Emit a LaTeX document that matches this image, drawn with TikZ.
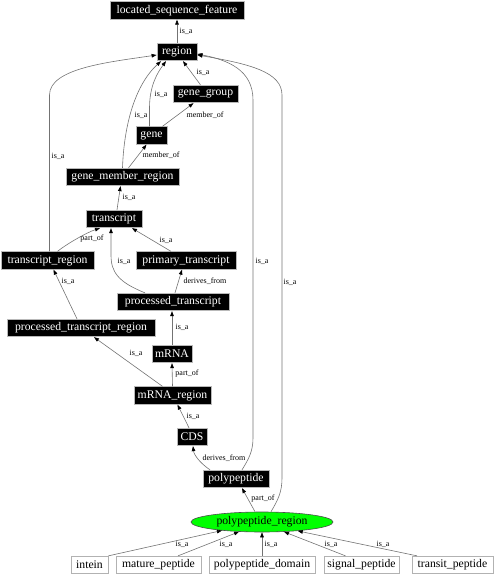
\documentclass[tikz,border=0pt]{standalone}
\usepackage{fontspec}
\setmainfont{Liberation Serif}
\usetikzlibrary{arrows.meta,shapes.geometric}
\begin{document}
\begin{tikzpicture}[x=1pt,y=-1pt,
  bnode/.style={rectangle, fill=black, draw=gray!55, line width=0.8pt, text=white,
    font=\fontsize{11.7}{13}\selectfont, inner xsep=2pt, inner ysep=0pt, minimum height=17.5pt},
  wnode/.style={bnode, fill=white, text=black, draw=gray!60},
  edge/.style={draw=black!55, line width=0.6pt, -{Triangle[length=5pt,width=3.6pt,color=black]}},
  lbl/.style={font=\fontsize{8}{9}\selectfont, inner sep=0pt}]
\useasboundingbox (0,0) rectangle (495,576);

% nodes
\node[bnode, minimum width=134pt] (lsf) at (177,10.5) {located\_sequence\_feature};
\node[bnode, minimum width=40pt] (region) at (177,52) {region};
\node[bnode, minimum width=65pt] (gg) at (205.5,94) {gene\_group};
\node[bnode, minimum width=31pt] (gene) at (151.5,135.5) {gene};
\node[bnode, minimum width=113pt] (gmr) at (122.5,177) {gene\_member\_region};
\node[bnode, minimum width=56pt] (transcript) at (114,219) {transcript};
\node[bnode, minimum width=93pt] (tr) at (47.5,260.5) {transcript\_region};
\node[bnode, minimum width=100pt] (prim) at (186,260.5) {primary\_transcript};
\node[bnode, minimum width=112pt] (proc) at (173,302) {processed\_transcript};
\node[bnode, minimum width=148pt] (ptr) at (81,328) {processed\_transcript\_region};
\node[bnode, minimum width=40pt] (mrna) at (172,354) {mRNA};
\node[bnode, minimum width=77pt] (mr) at (172.5,395.5) {mRNA\_region};
\node[bnode, minimum width=30pt] (cds) at (192,437) {CDS};
\node[bnode, minimum width=66pt] (poly) at (236,479) {polypeptide};
\node[ellipse, fill=green, draw=black!70, line width=0.6pt, minimum width=142pt, minimum height=20pt,
      inner sep=0pt, font=\fontsize{11.7}{13}\selectfont] (pr) at (262,522) {polypeptide\_region};
\node[wnode, minimum width=37pt] (intein) at (89.5,565) {intein};
\node[wnode, minimum width=85pt] (mature) at (158.5,565) {mature\_peptide};
\node[wnode, minimum width=106pt] (domain) at (262,565) {polypeptide\_domain};
\node[wnode, minimum width=75pt] (signal) at (361.5,565) {signal\_peptide};
\node[wnode, minimum width=81pt] (transit) at (452.5,565) {transit\_peptide};

% edges
\draw[edge] (region.north) -- (lsf.south);
\draw[edge] ([xshift=-5pt]gg.north) -- ([xshift=6pt]region.south);
\draw[edge] ([xshift=-2pt]gene.north) -- (149.5,108) .. controls (149.5,85) and (158,72) .. ([xshift=-11pt]region.south);
\draw[edge] ([xshift=11pt]gene.north) -- ([xshift=-12pt]gg.south);
\draw[edge] (gmr.north) .. controls (124,125) and (135,85) .. ([xshift=-16pt]region.south);
\draw[edge] ([xshift=6pt]gmr.north) -- ([xshift=-5pt]gene.south);
\draw[edge] ([xshift=3pt]transcript.north) -- ([xshift=-2pt]gmr.south);
\draw[edge] ([xshift=10pt]tr.north) .. controls (68,243) and (88,232) .. ([xshift=-14pt]transcript.south);
\draw[edge] ([xshift=2pt]tr.north) -- (49.5,95) .. controls (49.5,68) and (110,62) .. ([yshift=-3pt]region.west);
\draw[edge] ([xshift=-15pt]prim.north) -- ([xshift=18pt]transcript.south);
\draw[edge] ([xshift=-28pt]proc.north) .. controls (118,282) and (111,272) .. (111,255) -- ([xshift=-3pt]transcript.south);
\draw[edge] ([xshift=2pt]proc.north) -- ([xshift=-4pt]prim.south);
\draw[edge] ([xshift=-4pt]ptr.north) -- ([xshift=6pt]tr.south);
\draw[edge] (mrna.north) -- ([xshift=-1pt]proc.south);
\draw[edge] ([xshift=-10pt]mr.north) -- ([xshift=13pt]ptr.south);
\draw[edge] (mr.north) -- (mrna.south);
\draw[edge] ([xshift=-3pt]cds.north) -- ([xshift=5pt]mr.south);
\draw[edge] ([xshift=-26pt]poly.north) .. controls (200,463) and (194,455) .. ([xshift=1pt]cds.south);
\draw[edge] ([xshift=6pt]poly.north) .. controls (248,460) and (253,452) .. (253,438) -- (253,100) .. controls (253,70) and (228,60) .. ([yshift=-2pt]region.east);
\draw[edge] ([xshift=-7pt]pr.north) -- ([xshift=6pt]poly.south);
\draw[edge] ([xshift=9pt]pr.north) .. controls (278,500) and (282,492) .. (282,478) -- (282,95) .. controls (282,72) and (250,64) .. ([yshift=-3pt]region.east);
\draw[edge] (intein.north east) -- (pr.192);
\draw[edge] ([xshift=19.5pt]mature.north) -- (pr.203.5);
\draw[edge] (domain.north) -- (pr.south);
\draw[edge] ([xshift=-16pt]signal.north) -- (pr.336.5);
\draw[edge] ([xshift=-35.5pt]transit.north) -- (pr.346.4);

% labels
\node[lbl] (l1) at (186,31) {is\_a};
\node[lbl] (l2) at (203,72) {is\_a};
\node[lbl] (l3) at (161,94) {is\_a};
\node[lbl] (l4) at (205,115) {member\_of};
\node[lbl] (l5) at (141,115) {is\_a};
\node[lbl] (l6) at (58,156) {is\_a};
\node[lbl] (l7) at (161,155) {member\_of};
\node[lbl] (l8) at (129,197) {is\_a};
\node[lbl] (l9) at (92,239) {part\_of};
\node[lbl] (l10) at (166,240) {is\_a};
\node[lbl] (l11) at (262,261) {is\_a};
\node[lbl] (l12) at (290,282) {is\_a};
\node[lbl] (l13) at (124,261) {is\_a};
\node[lbl] (l14) at (205,281) {derives\_from};
\node[lbl] (l15) at (68,281) {is\_a};
\node[lbl] (l16) at (182,327) {is\_a};
\node[lbl] (l17) at (136,353) {is\_a};
\node[lbl] (l18) at (187,374) {part\_of};
\node[lbl] (l19) at (193,416) {is\_a};
\node[lbl] (l20) at (224,458) {derives\_from};
\node[lbl] (l21) at (263,499) {part\_of};
\node[lbl] (l22) at (182,544) {is\_a};
\node[lbl] (l23) at (226,544) {is\_a};
\node[lbl] (l24) at (271,544) {is\_a};
\node[lbl] (l25) at (331,544) {is\_a};
\node[lbl] (l26) at (383,544) {is\_a};
\end{tikzpicture}
\end{document}
